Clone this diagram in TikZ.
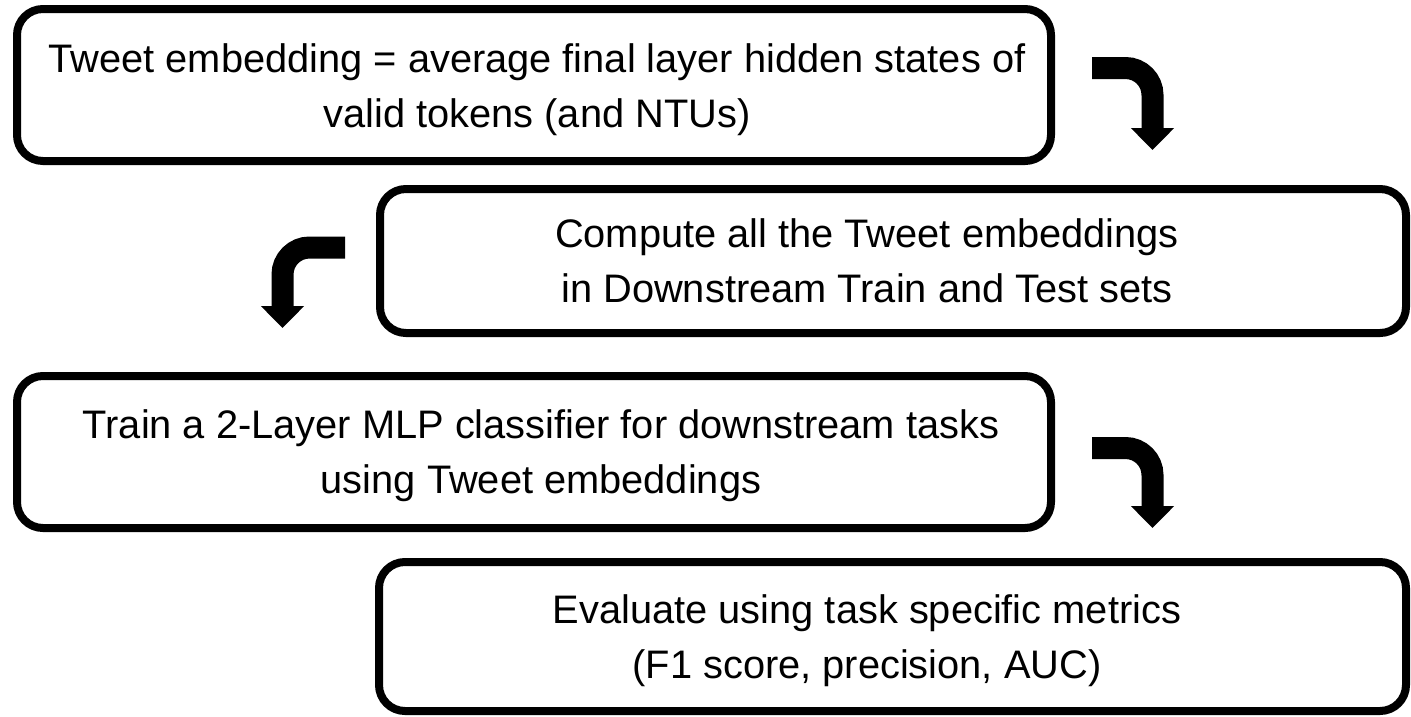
\documentclass[tikz,border=0pt]{standalone}
\usepackage{fontspec}
\setmainfont{Liberation Sans}
\usetikzlibrary{arrows.meta}
\begin{document}
\begin{tikzpicture}[x=1pt, y=-1pt,
  box/.style={draw=black, line width=8pt, rounded corners=26pt, inner sep=0pt},
  txt/.style={font=\fontsize{39.8}{55}\selectfont, align=center, inner sep=0pt},
  flow/.style={draw=black, line width=22pt, rounded corners=27pt,
    -{Triangle[length=22pt, width=42pt]}}]
\useasboundingbox (0,0) rectangle (1411,716);

% process steps
\node[box, minimum width=1034pt, minimum height=152pt] (b1) at (534,85) {};
\node[box, minimum width=1026pt, minimum height=144pt] (b2) at (893,261) {};
\node[box, minimum width=1034pt, minimum height=152pt] (b3) at (534,452) {};
\node[box, minimum width=1027pt, minimum height=149pt] (b4) at (892.5,636.5) {};

\node[txt] (t1) at (537,90) {Tweet embedding = average final layer hidden states of\\valid tokens (and NTUs)};
\node[txt] (t2) at (867,261) {Compute all the Tweet embeddings\\in Downstream Train and Test sets};
\node[txt] (t3) at (541,456) {Train a 2-Layer MLP classifier for downstream tasks\\using Tweet embeddings};
\node[txt] (t4) at (867,641) {Evaluate using task specific metrics\\(F1 score, precision, AUC)};

% bent arrows between the steps
\coordinate (a1s) at (1092,68);
\coordinate (a1c) at (1152.5,68);
\coordinate (a1e) at (1152.5,150);
\draw[flow] (a1s) -- (a1c) -- (a1e);

\coordinate (a2s) at (345,247.5);
\coordinate (a2c) at (282.5,247.5);
\coordinate (a2e) at (282.5,328);
\draw[flow] (a2s) -- (a2c) -- (a2e);

\coordinate (a3s) at (1092,448);
\coordinate (a3c) at (1152.5,448);
\coordinate (a3e) at (1152.5,528);
\draw[flow] (a3s) -- (a3c) -- (a3e);
\end{tikzpicture}
\end{document}
